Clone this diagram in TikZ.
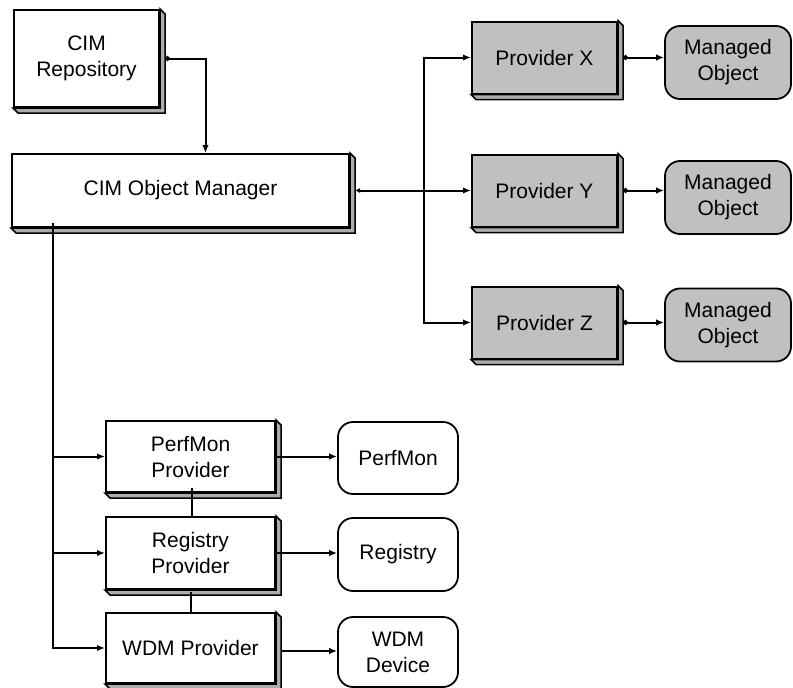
\documentclass[tikz,border=0pt]{standalone}
\usepackage{fontspec}
\setmainfont{Liberation Sans}
\usetikzlibrary{arrows.meta,calc}
\definecolor{panelgray}{RGB}{192,192,192}
\definecolor{edgegray}{RGB}{172,172,172}

% raised edge along the right and bottom of a box
\newcommand\extrude[1]{%
  \filldraw[fill=edgegray, draw=black, line width=1.5pt, line join=miter]
    (#1.north east) -- ++(5,5) -- ($(#1.south east)+(5,5)$)
    -- ($(#1.south west)+(5,5)$) -- (#1.south west) -- (#1.south east) -- cycle;
}

\begin{document}
\begin{tikzpicture}[x=1pt, y=-1pt,
  font=\fontsize{21}{26}\selectfont,
  plainbox/.style={draw=black, line width=2pt, fill=white, align=center, inner sep=0pt},
  provbox/.style={plainbox, fill=panelgray, minimum width=145pt, minimum height=72pt},
  objbox/.style={draw=black, line width=1.8pt, rounded corners=15pt, align=center, inner sep=0pt},
  managed/.style={objbox, fill=panelgray, minimum width=126pt, minimum height=73pt},
  source/.style={objbox, fill=white, minimum width=120pt, minimum height=72pt},
  wmibox/.style={plainbox, minimum width=169pt, minimum height=71pt},
  link/.style={line width=2pt, -{Latex[length=8pt,width=6.5pt]}},
  twoway/.style={line width=2pt, {Circle[length=5pt]}-{Latex[length=8pt,width=6.5pt]}},
  wire/.style={line width=2pt}
]
\useasboundingbox (0,0) rectangle (793,688);

% core boxes
\node[plainbox, minimum width=145pt, minimum height=97pt] (repo) at (86.5,58.5) {CIM\\Repository};
\node[plainbox, minimum width=337pt, minimum height=73pt] (com) at (180.5,190.5) {CIM Object Manager};

% providers and their managed objects
\node[provbox] (px) at (544.5,57.5) {Provider X};
\node[provbox] (py) at (544.5,190.5) {Provider Y};
\node[provbox] (pz) at (544.5,322.5) {Provider Z};
\node[managed] (mx) at (728,62.5) {Managed\\Object};
\node[managed] (my) at (728,197.5) {Managed\\Object};
\node[managed] (mz) at (728,325) {Managed\\Object};

% built-in providers
\node[wmibox] (perfp) at (190.5,456.5) {PerfMon\\Provider};
\node[wmibox, minimum height=72pt] (regp) at (190.5,553) {Registry\\Provider};
\node[wmibox, minimum height=70pt] (wdmp) at (190.5,648) {WDM Provider};
\node[source] (perf) at (398,458) {PerfMon};
\node[source, minimum height=73pt] (reg) at (398,554.5) {Registry};
\node[source, minimum height=70pt] (wdm) at (398,652) {WDM\\Device};

\foreach \n in {repo,com,px,py,pz,perfp,regp,wdmp} {\extrude{\n}}

% repository <-> object manager
\draw[twoway] ([xshift=5pt]repo.east) -| ([xshift=25pt]com.north);

% object manager <-> providers
\coordinate (trunk) at (424,0);
\draw[link, {Latex[length=8pt,width=6.5pt]}-{Latex[length=8pt,width=6.5pt]}] (px.west) -| (pz.west -| trunk) -- (pz.west);
\draw[wire, {Latex[length=5pt,width=5pt]}-{Latex[length=8pt,width=6.5pt]}] ([xshift=5pt]com.east) -- (py.west);

% providers -> managed objects
\draw[twoway] ([xshift=5pt]px.east) -- (mx.west |- px.east);
\draw[twoway] ([xshift=5pt]py.east) -- (my.west |- py.east);
\draw[twoway] ([xshift=5pt]pz.east) -- (mz.west |- pz.east);

% object manager -> built-in providers
\coordinate (ltrunk) at (53,0);
\draw[link] ([yshift=5pt]com.south -| ltrunk) |- (wdmp.west);
\draw[link] (perfp.west -| ltrunk) -- (perfp.west);
\draw[link] (regp.west -| ltrunk) -- (regp.west);

% links between stacked providers
\draw[wire] ([xshift=1.5pt, yshift=5pt]perfp.south) -- ([xshift=1.5pt]regp.north);
\draw[wire] ([yshift=-2pt]regp.south) -- (wdmp.north);

% built-in providers -> data sources
\draw[link] (perfp.east) -- (perf.west |- perfp.east);
\draw[link] (regp.east) -- (reg.west |- regp.east);
\draw[link] ([xshift=6pt,yshift=-3pt]wdmp.east) -- ([yshift=-3pt]wdm.west |- wdmp.east);
\end{tikzpicture}
\end{document}
